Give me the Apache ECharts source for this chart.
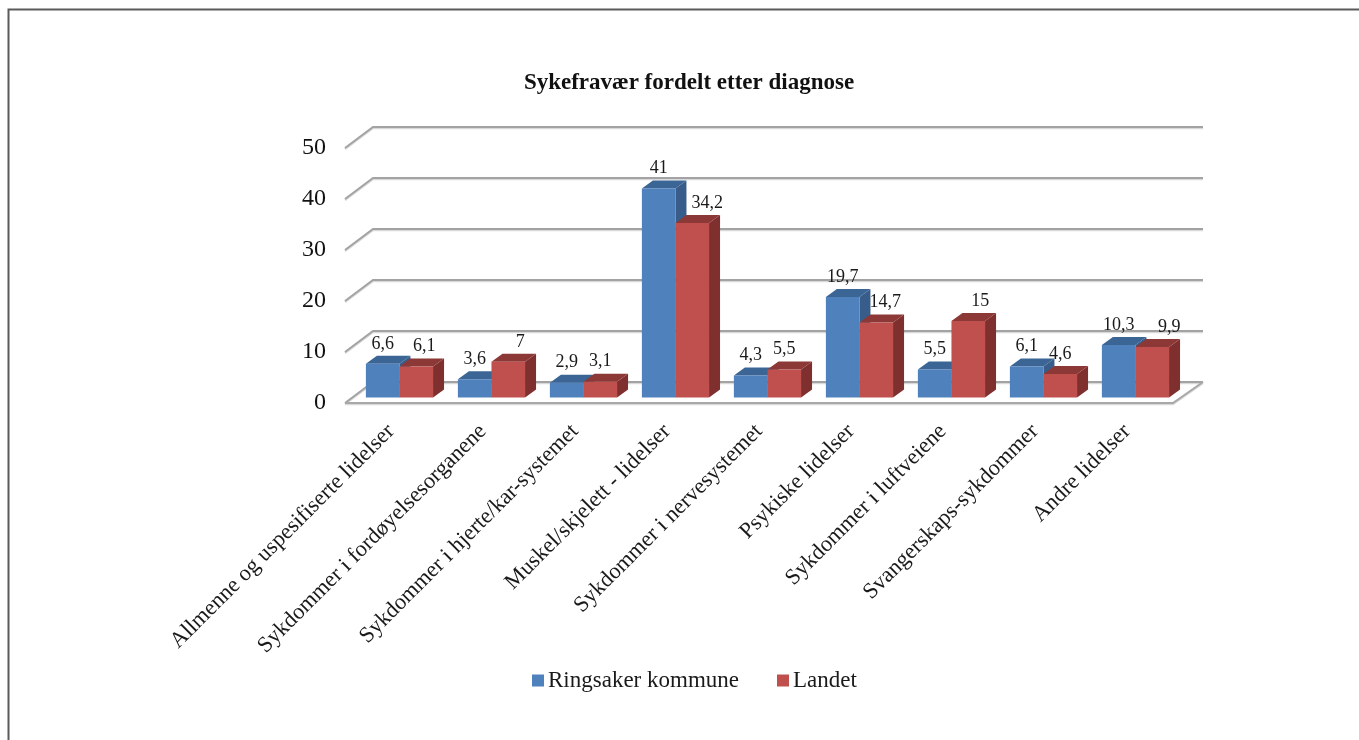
<!DOCTYPE html>
<html>
<head>
<meta charset="utf-8">
<style>html,body{margin:0;padding:0;background:#fff}#c{width:1359px;height:740px}</style>
<script src="https://cdn.jsdelivr.net/npm/echarts@6/dist/echarts.min.js"></script>
</head>
<body>
<div id="c"></div>
<script>
const categories = ["Allmenne og uspesifiserte lidelser","Sykdommer i fordøyelsesorganene","Sykdommer i hjerte/kar-systemet","Muskel/skjelett - lidelser","Sykdommer i nervesystemet","Psykiske lidelser","Sykdommer i luftveiene","Svangerskaps-sykdommer","Andre lidelser"];
const ringsaker = [6.6,3.6,2.9,41,4.3,19.7,5.5,6.1,10.3];
const landet = [6.1,7,3.1,34.2,5.5,14.7,15,4.6,9.9];
const yTicks = [0,10,20,30,40,50];
const landetLabelShift = [8,12,0,15,0,9,12,0,17];
const serif = '"Liberation Serif","Times New Roman",serif';
const WALL = {dx:28, dy:-21}, DEPTH = {dx:11, dy:-8}, LIFT = 5.5;

function barSeries(name, values, front, top, side, slot, shifts){
  return {
    name, type:'custom', clip:false, z:3,
    itemStyle:{color:front},
    encode:{x:0,y:1},
    data: values.map((v,i)=>[i,v]),
    renderItem(params, api){
      const i = api.value(0), v = api.value(1);
      const band = api.size([1,0])[0];
      const w = band*0.365;
      const cx = api.coord([i,0])[0] + band*0.092;
      const x0 = cx + (slot-1)*w, x1 = x0 + w;
      const yb = api.coord([i,0])[1] - LIFT;
      const yt = api.coord([i,v])[1] - LIFT;
      const d = DEPTH;
      return {type:'group', children:[
        {type:'polygon', shape:{points:[[x1,yb],[x1+d.dx,yb+d.dy],[x1+d.dx,yt+d.dy],[x1,yt]]}, style:{fill:side}},
        {type:'polygon', shape:{points:[[x0,yt],[x0+d.dx,yt+d.dy],[x1+d.dx,yt+d.dy],[x1,yt]]}, style:{fill:top}},
        {type:'rect', shape:{x:x0,y:yt,width:w,height:yb-yt}, style:{fill:front}},
        {type:'text', z2:10, style:{text:String(v).replace('.',','), x:(x0+x1)/2+(shifts?shifts[i]:0), y:yt-20,
          textAlign:'center', textVerticalAlign:'middle', verticalAlign:'middle', font:'18px '+serif, fill:'#1a1a1a'}}
      ]};
    }
  };
}

const wallSeries = {
  name:'wall', type:'custom', clip:false, silent:true, z:1,
  encode:{x:0,y:1},
  data: yTicks.map(v=>[0,v]),
  renderItem(params, api){
    const v = api.value(1);
    const band = api.size([1,0])[0];
    const left = api.coord([0,v]);
    const right = api.coord([categories.length-1,v]);
    const xl = left[0]-band/2, xr = right[0]+band/2, y = left[1];
    const pts = [[xl,y],[xl+WALL.dx,y+WALL.dy],[xr+WALL.dx+2,y+WALL.dy]];
    const children = [
      {type:'polyline', shape:{points:pts.map(p=>[p[0],p[1]+1.2])}, style:{stroke:'#d9d9d9',lineWidth:2,fill:'none'}},
      {type:'polyline', shape:{points:pts}, style:{stroke:'#a3a3a3',lineWidth:2,fill:'none'}}
    ];
    if(v===0){
      const fp=[[xl,y],[xr,y],[xr+WALL.dx+2,y+WALL.dy]];
      children.push({type:'polyline', shape:{points:fp.map(p=>[p[0],p[1]+1.2])}, style:{stroke:'#d9d9d9',lineWidth:2,fill:'none'}});
      children.push({type:'polyline', shape:{points:fp}, style:{stroke:'#a8a8a8',lineWidth:2,fill:'none'}});
    }
    return {type:'group', children};
  }
};

const chart = echarts.init(document.getElementById('c'), null, {renderer:'canvas'});
chart.setOption({
  animation:false,
  backgroundColor:'#fff',
  title:{text:'Sykefravær fordelt etter diagnose', left:689, top:72, textAlign:'center', padding:0,
    textStyle:{fontFamily:serif,fontSize:23,fontWeight:'bold',color:'#111'}},
  legend:{data:['Ringsaker kommune','Landet'], left:527, top:664, icon:'rect', itemWidth:12, itemHeight:12, itemGap:38, itemStyle:{borderWidth:0},
    textStyle:{fontFamily:serif,fontSize:23,color:'#1a1a1a',padding:[2,0,0,-1]}},
  grid:{left:345, top:148, width:828, height:255, containLabel:false},
  xAxis:{type:'category', data:categories,
    axisLine:{show:false}, axisTick:{show:false},
    axisLabel:{rotate:45, interval:0, margin:25, fontFamily:serif, fontSize:22.5, color:'#1a1a1a'}},
  yAxis:{type:'value', min:0, max:50, interval:10, splitLine:{show:false}, axisLine:{show:false}, axisTick:{show:false},
    axisLabel:{margin:19, fontFamily:serif, fontSize:24, color:'#111', padding:[4,0,0,0]}},
  graphic:[{type:'polyline', silent:true, shape:{points:[[8.5,740],[8.5,9.5],[1359,9.5]]}, style:{stroke:'#5a5a5a',lineWidth:2,fill:'none'}}],
  series:[
    wallSeries,
    barSeries('Ringsaker kommune', ringsaker, '#4f81bd', '#3a6595', '#385d8a', 0, null),
    barSeries('Landet', landet, '#c0504d', '#8c3836', '#7f2f2e', 1, landetLabelShift)
  ]
});
</script>
</body>
</html>
